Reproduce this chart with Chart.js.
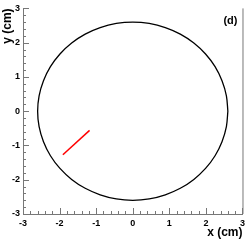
<!DOCTYPE html>
<html>
<head>
    <title>Track in detector (d)</title>
    <script src="https://cdn.jsdelivr.net/npm/chart.js"></script>
    <style>
        body {
            margin: 0;
            background: #fff;
        }
    </style>
</head>
<body>
    <canvas id="trackChart" width="249" height="240"></canvas>

    <script>
        // circle outline, every 10 degrees (cm)
        const circleX = [2.60, 2.56, 2.44, 2.25, 1.99, 1.67, 1.30, 0.89, 0.45, 0.00,
            -0.45, -0.89, -1.30, -1.67, -1.99, -2.25, -2.44, -2.56, -2.60,
            -2.56, -2.44, -2.25, -1.99, -1.67, -1.30, -0.89, -0.45, 0.00,
            0.45, 0.89, 1.30, 1.67, 1.99, 2.25, 2.44, 2.56, 2.60];
        const circleY = [0.00, 0.45, 0.89, 1.30, 1.67, 1.99, 2.25, 2.44, 2.56, 2.60,
            2.56, 2.44, 2.25, 1.99, 1.67, 1.30, 0.89, 0.45, 0.00,
            -0.45, -0.89, -1.30, -1.67, -1.99, -2.25, -2.44, -2.56, -2.60,
            -2.56, -2.44, -2.25, -1.99, -1.67, -1.30, -0.89, -0.45, 0.00];

        // red track segment
        const trackX = [-1.91, -1.18];
        const trackY = [-1.27, -0.56];

        const axisMin = -3;
        const axisMax = 3;
        const panelLabel = '(d)';

        const toPoints = (xs, ys) => xs.map((v, i) => ({x: v, y: ys[i]}));
        const font = '"Liberation Sans", Arial, sans-serif';
        const axisGray = '#777';

        // ROOT style ticks drawn inside the frame, plus right edge and panel label
        const rootFrame = {
            id: 'rootFrame',
            afterDraw(chart) {
                const {ctx, chartArea: a, scales: {x, y}} = chart;
                ctx.save();
                ctx.strokeStyle = axisGray;
                ctx.lineWidth = 1;
                ctx.beginPath();
                for (let i = axisMin * 5; i <= axisMax * 5; i++) {
                    const len = i % 5 === 0 ? 6 : 3;
                    const px = Math.round(x.getPixelForValue(i / 5)) + 0.5;
                    ctx.moveTo(px, a.bottom);
                    ctx.lineTo(px, a.bottom - len);
                    const py = Math.round(y.getPixelForValue(i / 5)) + 0.5;
                    ctx.moveTo(a.left, py);
                    ctx.lineTo(a.left + len, py);
                }
                ctx.moveTo(a.right + 0.5, a.top);
                ctx.lineTo(a.right + 0.5, a.bottom);
                ctx.stroke();

                ctx.fillStyle = '#000';
                ctx.font = 'bold 11px ' + font;
                ctx.textAlign = 'right';
                ctx.fillText(panelLabel, a.right - 5, a.top + 16);
                ctx.restore();
            }
        };

        const ctx = document.getElementById('trackChart').getContext('2d');
        const chart = new Chart(ctx, {
            type: 'scatter',
            data: {
                datasets: [{
                    data: toPoints(circleX, circleY),
                    showLine: true,
                    borderColor: '#000',
                    borderWidth: 1.3,
                    pointRadius: 0,
                    tension: 0.33
                },
                {
                    data: toPoints(trackX, trackY),
                    showLine: true,
                    borderColor: '#ff0000',
                    borderWidth: 1.5,
                    pointRadius: 0
                }]
            },
            options: {
                responsive: false,
                animation: false,
                layout: {padding: {top: 3, right: 3, left: 0, bottom: 0}},
                plugins: {
                    legend: {display: false},
                    tooltip: {enabled: false}
                },
                scales: {
                    x: {
                        min: axisMin,
                        max: axisMax,
                        grid: {display: false, drawTicks: false},
                        border: {color: axisGray, width: 1},
                        ticks: {
                            stepSize: 1,
                            padding: 4,
                            color: '#000',
                            font: {family: font, size: 9, weight: 'bold'}
                        },
                        title: {
                            display: true,
                            text: 'x (cm)',
                            align: 'end',
                            color: '#000',
                            padding: 0,
                            font: {family: font, size: 12, weight: 'bold'}
                        },
                        afterFit: s => { s.height = 26; }
                    },
                    y: {
                        min: axisMin,
                        max: axisMax,
                        grid: {display: false, drawTicks: false},
                        border: {color: axisGray, width: 1},
                        ticks: {
                            stepSize: 1,
                            padding: 3,
                            color: '#000',
                            font: {family: font, size: 9, weight: 'bold'}
                        },
                        title: {
                            display: true,
                            text: 'y (cm)',
                            align: 'end',
                            color: '#000',
                            padding: 0,
                            font: {family: font, size: 12, weight: 'bold'}
                        },
                        afterFit: s => { s.width = 23; }
                    }
                }
            },
            plugins: [rootFrame]
        });
    </script>
</body>
</html>
